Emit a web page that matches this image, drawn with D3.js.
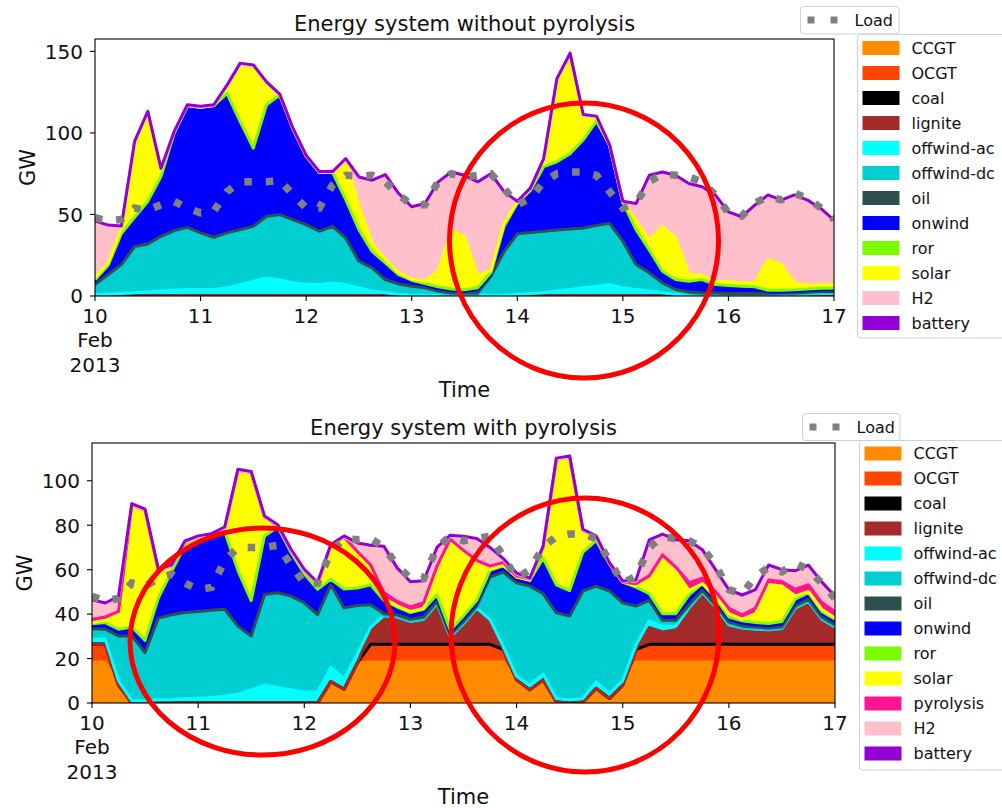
<!DOCTYPE html>
<html>
<head>
<meta charset="utf-8">
<script src="https://cdn.jsdelivr.net/npm/d3@7"></script>
<style>
  body { margin: 0; background: #fff; }
  svg { display: block; }
  text { font-family: "DejaVu Sans", sans-serif; fill: #111; }
</style>
</head>
<body>
<svg id="fig" width="1002" height="808"></svg>
<script>
// hours since 10 Feb 2013 00:00 (3-hourly)
const hours = [0,3,6,9,12,15,18,21,24,27,30,33,36,39,42,45,48,51,54,57,60,63,66,69,72,75,78,81,84,87,90,93,96,99,102,105,108,111,114,117,120,123,126,129,132,135,138,141,144,147,150,153,156,159,162,165,168];
const dayTicks = [10,11,12,13,14,15,16,17];

// Load (GW), same in both panels
const load = [48,46,47,54,52.5,56,58,54,51,52,64,70,70,70,71,62,54,54,68,74,73.5,74,70,62,56,56,70,75,73,74,75,66,56,60,70,75,76,76,74,64,54,57,70,75,74,73,70,62,51,49,57,61,59,63,60,54,47];

// --- Energy system without pyrolysis (GW) ---
const noPyrThermal = [0,0,0,0,0,0,0,0,0,0,0,0,0,0,0,0,0,0,0,0,0,0,0,0,0,0,0,0,0,0,0,0,0,0,0,0,0,0,0,0,0,0,0,0,0,0,0,0,0,0,0,0,0,0,0,0,0];
const noPyrOffwindAc = [1,1,1.5,2,2.5,3,3.5,4,4,4,5,7,9,11,10,8,7,7,8,7,5,3,2,1,0.5,0.5,0.3,0.3,0.5,0.5,0.5,0.5,1,1.5,2,3,4,5,6,7,5,4,3,2,1,0.5,0.5,0.5,0.3,0.3,0.3,0.3,0.5,0.5,1,1.5,1.5];
const noPyrOffwindDc = [5.2,11.4,17,27.5,28.6,32.8,35.8,37.3,33.9,31.2,32.9,32.9,32.9,37.1,39.1,38,36,31.9,33.9,27.8,15.5,13.5,7.3,5.6,4.7,3.7,1.9,0.8,0.6,0.6,10.8,26,36.3,36.6,36.9,36.7,36.3,35.9,36.5,36.8,27.8,14.5,10.4,5.3,2.2,1.2,0.5,0.5,0.5,0.5,0.5,0.5,0.5,0.5,0.5,0.5,0.5];
const noPyrOil = [0.8,0.8,0.8,0.8,0.8,0.8,0.8,0.8,0.8,0.8,0.8,0.8,0.8,0.8,0.8,0.8,0.8,0.8,0.8,0.8,0.8,0.8,0.8,0.8,0.8,0.8,0.8,0.8,0.8,0.8,0.8,0.8,0.8,0.8,0.8,0.8,0.8,0.8,0.8,0.8,0.8,0.8,0.8,0.8,0.8,0.8,0.8,0.8,0.8,0.8,0.8,0.8,0.8,0.8,0.8,0.8,0.8];
const noPyrOnwind = [1.9,4.7,18,17,25.1,35.7,59,73.7,76.1,79.8,84.6,65.3,47,67.4,72.4,54.6,41,35.1,32.1,22.5,18.4,9,9.2,4.7,2.7,1.6,1.6,1.4,1,2.1,1.1,14.4,17.9,24.9,38.6,40.8,45.2,53.1,63,46.6,22.7,20.4,13.1,6.1,5.1,5.6,7.3,4.2,3.8,3.4,3,0.9,0.7,1,1,1,1];
const noPyrRor = [1,1,1,1,1,1,1,1,1,1,1,1,1,1,1,1,1,1,1,1,1,1,1,1,1,1,1,1,1,1,1,1,1,1,1,1,1,1,1,1,1,1,1,1,1,1,1,1,1,1,1,1,1,1,1,1,1];
const noPyrSolar = [1.5,1.5,3,46,54.8,4.5,0.3,0,0,0,4.5,35.3,50.5,13.5,0,0,0,0,0,24.7,14.6,5,2,1.2,0.6,1.5,9.7,36,32.4,7.3,1.5,2,0.6,1,4.5,50.5,61.1,15,2.5,0,0.3,5.6,6,27.5,25.5,4.1,2.6,2.1,2.3,2.1,2.7,18.8,15.8,4.3,2.5,2.2,2.2];
const noPyrH2 = [34.1,22.6,1.2,0,0,0,0,0,0,0,0,0,0,0,0,0,0,0,0,0,17.2,38.2,51.7,48.2,43.9,47.1,54.2,35.2,37.2,57.2,58.8,18.8,0,0,0,0,0,0,0,0,0,9.9,39.2,32.8,37.9,55.3,53.8,52.4,42.4,40,46.9,39.2,39,53.4,51.5,46.2,39];
const noPyrBattery = [0.5,0.5,0.5,0.5,0.5,0.5,0.5,0.5,0.5,0.5,0.5,0.5,0.5,0.5,0.5,0.5,0.5,0.5,0.5,0.5,0.5,0.5,0.5,0.5,0.5,0.5,0.5,0.5,0.5,0.5,0.5,0.5,0.5,0.5,0.5,0.5,0.5,0.5,0.5,0.5,0.5,0.5,0.5,0.5,0.5,0.5,0.5,0.5,0.5,0.5,0.5,0.5,0.5,0.5,0.5,0.5,0.5];

// --- Energy system with pyrolysis (GW) ---
const pyrCCGT = [18.5,18.5,8,0,0,0,0,0,0,0,0,0,0,0,0,0,0,0,9.6,6.2,18,18.5,18.5,18.5,18.5,18.5,18.5,18.5,18.5,18.5,18.5,18.5,10.4,5.9,10.4,0.6,0,0.5,6.6,2,8,18.5,18.5,18.5,18.5,18.5,18.5,18.5,18.5,18.5,18.5,18.5,18.5,18.5,18.5,18.5,18.5];
const pyrOCGT = [7,7,0,0,0,0,0,0,0,0,0,0,0,0,0,0,0,0,0,0,0,7,7,7,7,7,7,7,7,7,7,5.5,0,0,0,0,0,0,0,0,0,5.5,7,7,7,7,7,7,7,7,7,7,7,7,7,7,7];
const pyrCoal = [1,1,0,0,0,0,0,0,0,0,0,0,0,0,0,0,0,0,0,0,0,0.9,0.9,0.9,0.9,0.9,0.9,0.9,0.9,0.9,0.9,0,0,0,0,0,0,0,0,0,0,0,0.9,0.9,0.9,0.9,0.9,0.9,0.9,0.9,0.9,0.9,0.9,0.9,0.9,0.9,0.9];
const pyrLignite = [0,0,0,0,0,0,0,0,0,0,0,0,0,0,0,0,0,0,0,0,0,6.6,12.1,11.6,9.6,10.6,17.6,2.6,8.6,15.6,10.2,0,0,0,0,0,0,0,0,0,0,0,7.6,5.6,6.6,15.6,22.6,16.1,8.1,6.6,6.1,6.1,6.6,15.6,18.6,10.6,7.1];
const pyrOffwindAc = [2.2,2.2,2,1,1,1.5,1.5,2,2,2.5,3,4,6,8,7,6,5,5,6.4,4.8,4,1,0.8,0.7,0.7,0.7,0.7,0.7,0.7,0.7,0.9,1.5,1.6,2.1,2.6,1.4,1.5,1.5,2.9,2.5,2,2,3,2.5,1.5,0.8,0.7,0.7,0.7,0.7,0.7,0.5,0.5,0.7,0.7,0.7,0.7];
const pyrOffwindDc = [3.9,3.7,19.4,28.4,20.9,35.9,37.4,37.9,38.4,38.4,38.4,29.8,23.3,40,41.8,41.3,39.3,34,36.4,31,21.1,9.4,0.1,0.2,0.2,0.2,0.2,0.2,0.2,0.2,18.4,32.6,41.3,43.8,35.4,37.8,36.8,47.6,42.3,45.1,34.3,16.8,8.4,1.9,1.9,0.6,0.2,0.2,0.4,0.2,0.2,0,0,0.2,0.2,0.2,0.2];
const pyrOil = [0.8,0.8,0.8,0.8,0.8,0.8,0.8,0.8,0.8,0.8,0.8,0.8,0.8,0.8,0.8,0.8,0.8,0.8,0.8,0.8,0.8,0.8,0.8,0.8,0.8,0.8,0.8,0.8,0.8,0.8,0.8,0.8,0.8,0.8,0.8,0.8,0.8,0.8,0.8,0.8,0.8,0.8,0.8,0.8,0.8,0.8,0.8,0.8,0.8,0.8,0.8,0.8,0.8,0.8,0.8,0.8,0.8];
const pyrOnwind = [1.3,2,2,3,4.5,8,18.5,29.2,31,32,34,24,15,25.4,28.6,18.6,12.1,10.4,1.5,7.5,6.8,8,5,2.5,2,2.5,2,1,1.5,1.5,2,1.8,1.6,1.6,15,11.6,10.5,16.5,19.5,11.2,8.3,7.5,2,2,2,3.5,2,2,1.3,1.3,1,1,1.4,2,2,1.5,1.5];
const pyrRor = [1,1,1,1,1,1,1,1,1,1,1,1,1,1,1,1,1,1,1,1,1,1,1,1,1,1,1,1,1,1,1,1,1,1,1,1,1,1,1,1,1,1,1,1,1,1,1,1,1,1,1,1,1,1,1,1,1];
const pyrSolar = [0.5,1,7,55,58.5,12.5,2.5,1.5,1.5,1,1.5,45.1,57.6,8.5,0.5,1,1.5,2.5,15.1,23.4,15,7,1,0.5,0.5,0.5,9.5,39.5,28,16.5,0.5,0.5,0,0,4.9,56.5,60.1,9.8,1.6,0.1,0,0.6,6.4,24.5,19,2,0,1,1.5,0.7,4,17.5,16,1.5,0.5,1,0.5];
const pyrPyrolysis = [1.5,1.5,1,0,0,0,0,0,0,0,0,0,0,0,0,0,0,0,0,0,1.5,2,2.5,2,2,2.5,3.5,1.5,1.5,1.5,1.5,1,0.5,0.5,0,0,0,0,0,0,0,1,1.6,2,2,3.5,2.5,2,2.5,2,2.5,2,2,3,3,3,3];
const pyrH2 = [8.3,5.8,6.3,0,0,0,0,0,0,0,0,0,0,0,0,0,0,0,0,0,3.3,8.3,20.3,14.6,10.9,9.3,7.8,1.3,5.8,9.3,7.8,1.3,0.8,0,0,0,0,0,0,0,0,1.2,15.7,8.8,11.8,18.3,12.3,9.3,7.8,8.4,7.8,6.3,4.8,7.8,8.3,8.8,6.3];
const pyrBattery = [0.5,0.5,0.5,0.5,0.5,0.5,0.5,0.5,0.5,0.5,0.5,0.5,0.5,0.5,0.5,0.5,0.5,0.5,0.5,0.5,0.5,0.5,0.5,0.5,0.5,0.5,0.5,0.5,0.5,0.5,0.5,0.5,0.5,0.5,0.5,0.5,0.5,0.5,0.5,0.5,0.5,0.5,0.5,0.5,0.5,0.5,0.5,0.5,0.5,0.5,0.5,0.5,0.5,0.5,0.5,0.5,0.5];

const colors = {
  "CCGT": "#ff8c00", "OCGT": "#ff4500", "coal": "#000000", "lignite": "#a52a2a",
  "offwind-ac": "#00ffff", "offwind-dc": "#00ced1", "oil": "#2f4f4f", "onwind": "#0000ff",
  "ror": "#7cfc00", "solar": "#ffff00", "pyrolysis": "#ff1493", "H2": "#ffc0cb", "battery": "#9400d3"
};

const svg = d3.select("#fig");
const t0 = Date.UTC(2013, 1, 10);
const toDate = h => new Date(t0 + h * 3600e3);

function panel(cfg) {
    const x = d3.scaleUtc().domain([toDate(0), toDate(168)]).range([cfg.left, cfg.right]);
    const y = d3.scaleLinear().domain([0, cfg.ymax]).range([cfg.bottom, cfg.top]);

    const keys = cfg.series.map(s => s[0]);
    const rows = hours.map((h, i) => {
        const r = {date: toDate(h)};
        cfg.series.forEach(s => { r[s[0]] = s[1][i]; });
        return r;
    });
    const layers = d3.stack().keys(keys)(rows);

    const g = svg.append("g");
    g.append("clipPath").attr("id", cfg.id + "clip")
        .append("rect")
        .attr("x", cfg.left).attr("y", cfg.top)
        .attr("width", cfg.right - cfg.left).attr("height", cfg.bottom - cfg.top);
    const plot = g.append("g").attr("clip-path", "url(#" + cfg.id + "clip)");

    const area = d3.area()
        .x(d => x(d.data.date))
        .y0(d => y(d[0]))
        .y1(d => y(d[1]));
    const edge = d3.line()
        .x(d => x(d.data.date))
        .y(d => y(d[1]));

    // fills first, then all edge lines on top (matplotlib zorder)
    plot.selectAll("path.fill").data(layers).join("path")
        .attr("class", "fill")
        .attr("d", area)
        .attr("fill", d => colors[d.key]);
    plot.selectAll("path.edge").data(layers).join("path")
        .attr("class", "edge")
        .attr("d", edge)
        .attr("fill", "none")
        .attr("stroke", d => colors[d.key])
        .attr("stroke-width", 3)
        .attr("stroke-linejoin", "round");

    // load
    const loadLine = d3.line()
        .x((d, i) => x(toDate(hours[i])))
        .y(d => y(d));
    plot.append("path")
        .attr("d", loadLine(load))
        .attr("fill", "none")
        .attr("stroke", "#808080")
        .attr("stroke-width", 7.5)
        .attr("stroke-dasharray", "7.5,14");

    // frame
    g.append("rect")
        .attr("x", cfg.left).attr("y", cfg.top)
        .attr("width", cfg.right - cfg.left).attr("height", cfg.bottom - cfg.top)
        .attr("fill", "none").attr("stroke", "#000").attr("stroke-width", 1.1);

    // y axis
    cfg.yticks.forEach(v => {
        g.append("line")
            .attr("x1", cfg.left - 5).attr("x2", cfg.left)
            .attr("y1", y(v)).attr("y2", y(v))
            .attr("stroke", "#000").attr("stroke-width", 1.1);
        g.append("text")
            .attr("x", cfg.left - 12).attr("y", y(v) + 7.3)
            .attr("text-anchor", "end")
            .attr("font-size", 20)
            .text(v);
    });

    // x axis
    dayTicks.forEach((d, i) => {
        const px = x(new Date(Date.UTC(2013, 1, d)));
        g.append("line")
            .attr("x1", px).attr("x2", px)
            .attr("y1", cfg.bottom).attr("y2", cfg.bottom + 5)
            .attr("stroke", "#000").attr("stroke-width", 1.1);
        g.append("text")
            .attr("x", px).attr("y", cfg.bottom + 27)
            .attr("text-anchor", "middle")
            .attr("font-size", 20)
            .text(d);
        if (i == 0) {
            g.append("text").attr("x", px).attr("y", cfg.bottom + 51)
                .attr("text-anchor", "middle").attr("font-size", 20).text("Feb");
            g.append("text").attr("x", px).attr("y", cfg.bottom + 75.5)
                .attr("text-anchor", "middle").attr("font-size", 20).text("2013");
        }
    });

    const cx = (cfg.left + cfg.right) / 2;
    g.append("text")
        .attr("x", cx).attr("y", cfg.top - 8.5)
        .attr("text-anchor", "middle").attr("font-size", 21)
        .text(cfg.title);
    g.append("text")
        .attr("x", cx).attr("y", cfg.bottom + 100.5)
        .attr("text-anchor", "middle").attr("font-size", 21)
        .text("Time");
    g.append("text")
        .attr("transform", `translate(${cfg.gwX},${(cfg.top + cfg.bottom) / 2}) rotate(-90)`)
        .attr("text-anchor", "middle").attr("font-size", 21)
        .text("GW");

    // legends
    const lb = cfg.loadBox;
    g.append("rect")
        .attr("x", lb[0]).attr("y", lb[1]).attr("width", lb[2]).attr("height", lb[3])
        .attr("rx", 3).attr("fill", "#fff").attr("fill-opacity", 0.8)
        .attr("stroke", "#d0d0d0");
    g.append("line")
        .attr("x1", lb[0] + 7).attr("x2", lb[0] + 38)
        .attr("y1", lb[1] + 13.5).attr("y2", lb[1] + 13.5)
        .attr("stroke", "#808080").attr("stroke-width", 7)
        .attr("stroke-dasharray", "7,16");
    g.append("text")
        .attr("x", lb[0] + 54).attr("y", lb[1] + 19.5)
        .attr("font-size", 16).text("Load");

    const mb = cfg.legendBox;
    g.append("rect")
        .attr("x", mb[0]).attr("y", mb[1]).attr("width", 200).attr("height", mb[2])
        .attr("rx", 3).attr("fill", "#fff").attr("fill-opacity", 0.8)
        .attr("stroke", "#d0d0d0");
    keys.filter(k => cfg.legendKeys.includes(k)).forEach((k, i) => {
        const cy = cfg.legendY0 + i * 25;
        g.append("rect")
            .attr("x", mb[0] + 5).attr("y", cy - 7)
            .attr("width", 37).attr("height", 14)
            .attr("fill", colors[k]);
        g.append("text")
            .attr("x", mb[0] + 54).attr("y", cy + 5.8)
            .attr("font-size", 16).text(k);
    });
}

panel({
    id: "nopyr",
    title: "Energy system without pyrolysis",
    left: 95, right: 834, top: 39, bottom: 296,
    ymax: 157.6, yticks: [0, 50, 100, 150], gwX: 35,
    series: [["CCGT", noPyrThermal], ["OCGT", noPyrThermal], ["coal", noPyrThermal], ["lignite", noPyrThermal],
             ["offwind-ac", noPyrOffwindAc], ["offwind-dc", noPyrOffwindDc], ["oil", noPyrOil],
             ["onwind", noPyrOnwind], ["ror", noPyrRor], ["solar", noPyrSolar], ["H2", noPyrH2], ["battery", noPyrBattery]],
    legendKeys: ["CCGT","OCGT","coal","lignite","offwind-ac","offwind-dc","oil","onwind","ror","solar","H2","battery"],
    loadBox: [800.5, 6.5, 98.5, 27.5],
    legendBox: [857.5, 34.5, 303.5],
    legendY0: 48
});

panel({
    id: "pyr",
    title: "Energy system with pyrolysis",
    left: 92, right: 835, top: 443, bottom: 703,
    ymax: 117, yticks: [0, 20, 40, 60, 80, 100], gwX: 32,
    series: [["CCGT", pyrCCGT], ["OCGT", pyrOCGT], ["coal", pyrCoal], ["lignite", pyrLignite],
             ["offwind-ac", pyrOffwindAc], ["offwind-dc", pyrOffwindDc], ["oil", pyrOil],
             ["onwind", pyrOnwind], ["ror", pyrRor], ["solar", pyrSolar], ["pyrolysis", pyrPyrolysis],
             ["H2", pyrH2], ["battery", pyrBattery]],
    legendKeys: ["CCGT","OCGT","coal","lignite","offwind-ac","offwind-dc","oil","onwind","ror","solar","pyrolysis","H2","battery"],
    loadBox: [802.5, 413.5, 97.5, 27],
    legendBox: [859.5, 440.5, 329.5],
    legendY0: 453.5
});

// red highlight circles drawn over the figure
const marks = [[584, 240.5, 134.5, 137.5], [262.5, 641.5, 132.5, 113.5], [585, 635, 134, 137]];
svg.selectAll("ellipse.mark").data(marks).join("ellipse")
    .attr("class", "mark")
    .attr("cx", d => d[0]).attr("cy", d => d[1])
    .attr("rx", d => d[2]).attr("ry", d => d[3])
    .attr("fill", "none").attr("stroke", "#ff0000").attr("stroke-width", 5);
</script>
</body>
</html>
